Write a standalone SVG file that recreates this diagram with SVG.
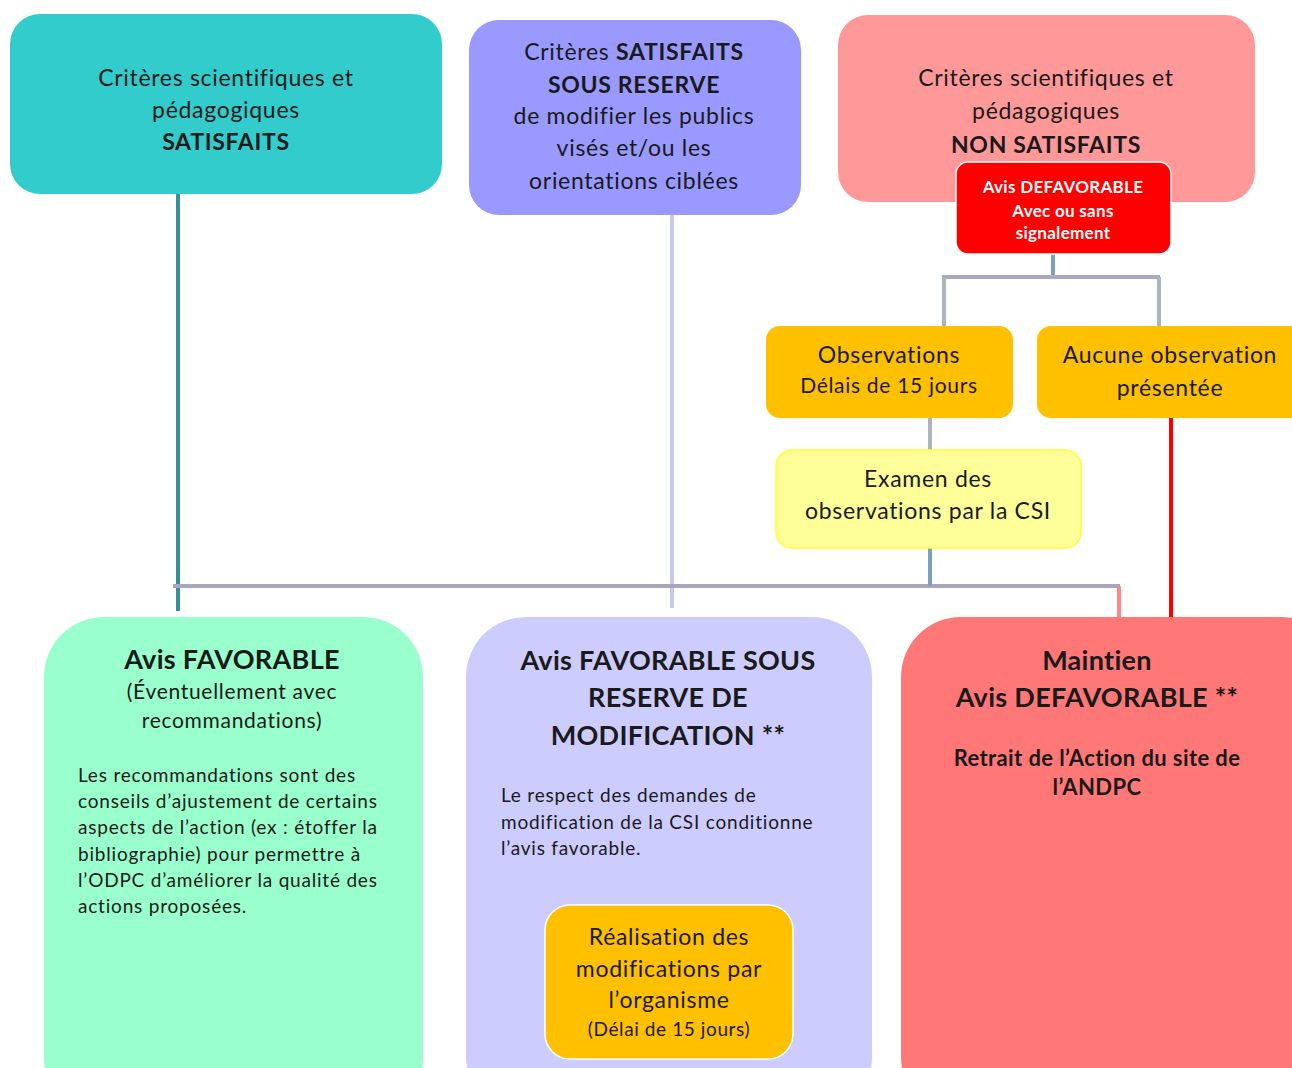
<svg xmlns="http://www.w3.org/2000/svg" width="1292" height="1068" viewBox="0 0 1292 1068">
<style>
text{font-family:Lato,"Open Sans","Liberation Sans",sans-serif;fill:#1a1a1a;}
.c{text-anchor:middle;}
.t22{font-size:23px;letter-spacing:0.7px;}
.t20{font-size:21px;letter-spacing:0.7px;}
.t18{font-size:19px;letter-spacing:0.6px;}
.t17{font-size:19px;letter-spacing:0.8px;}
.h{font-size:27px;font-weight:bold;letter-spacing:0.3px;}
.r{font-size:22px;font-weight:bold;letter-spacing:0.4px;}
.b{font-weight:bold;}
.w{fill:#ffffff;font-size:17px;font-weight:bold;letter-spacing:0.3px;}
.ln{fill:none;stroke-width:4;}
</style>
<rect width="1292" height="1068" fill="#ffffff"/>
<g id="connectors">
<line class="ln" x1="178" y1="194" x2="178" y2="611" stroke="#3b8e99"/>
<line class="ln" x1="672" y1="215" x2="672" y2="608" stroke="#c8c8f2"/>
<line class="ln" x1="173" y1="586" x2="1120" y2="586" stroke="#aaa6be"/>
<line class="ln" x1="1119" y1="586" x2="1119" y2="617" stroke="#ff8888"/>
<line class="ln" x1="1053" y1="254" x2="1053" y2="277" stroke="#7f9fbf"/>
<line class="ln" x1="942" y1="277" x2="1160" y2="277" stroke="#aaa8c0"/>
<line class="ln" x1="944" y1="277" x2="944" y2="326" stroke="#a9b6bc"/>
<line class="ln" x1="1159" y1="277" x2="1159" y2="326" stroke="#a9b6bc"/>
<line class="ln" x1="930" y1="418" x2="930" y2="452" stroke="#a9b6bc"/>
<line class="ln" x1="930" y1="548" x2="930" y2="586" stroke="#7f9fbf"/>
<line class="ln" x1="1171" y1="418" x2="1171" y2="617" stroke="#ff0000"/>
</g>
<g id="n-satisfaits">
<rect x="10" y="14" width="432" height="180" rx="30" fill="#33cccc"/>
<text class="c t22" x="226" y="86">Critères scientifiques et</text>
<text class="c t22" x="226" y="118">pédagogiques</text>
<text class="c t22 b" x="226" y="150">SATISFAITS</text>
</g>
<g id="n-sous-reserve">
<rect x="469" y="20" width="332" height="195" rx="30" fill="#9999ff"/>
<text class="c t22" x="634" y="60">Critères <tspan class="b">SATISFAITS</tspan></text>
<text class="c t22 b" x="634" y="93">SOUS RESERVE</text>
<text class="c t22" x="634" y="124">de modifier les publics</text>
<text class="c t22" x="634" y="156">visés et/ou les</text>
<text class="c t22" x="634" y="189">orientations ciblées</text>
</g>
<g id="n-non-satisfaits">
<rect x="838" y="15" width="417" height="187" rx="30" fill="#ff9999"/>
<text class="c t22" x="1046" y="86">Critères scientifiques et</text>
<text class="c t22" x="1046" y="119">pédagogiques</text>
<text class="c t22 b" x="1046" y="153">NON SATISFAITS</text>
</g>
<g id="n-avis-defavorable">
<rect x="956" y="162" width="215" height="92" rx="12" fill="#ff0000" stroke="#ffffff" stroke-width="1.5"/>
<text class="c w" x="1063" y="193">Avis DEFAVORABLE</text>
<text class="c w" x="1063" y="217">Avec ou sans</text>
<text class="c w" x="1063" y="239">signalement</text>
</g>
<g id="n-observations">
<rect x="766" y="326" width="247" height="92" rx="14" fill="#ffc000"/>
<text class="c t22" x="889" y="363">Observations</text>
<text class="c t20" x="889" y="393">Délais de 15 jours</text>
</g>
<g id="n-aucune">
<rect x="1037" y="326" width="275" height="92" rx="14" fill="#ffc000"/>
<text class="c t22" x="1170" y="363">Aucune observation</text>
<text class="c t22" x="1170" y="396">présentée</text>
</g>
<g id="n-examen">
<rect x="776" y="450" width="305" height="98" rx="16" fill="#ffff99" stroke="#ffff33" stroke-width="1.5"/>
<text class="c t22" x="928" y="487">Examen des</text>
<text class="c t22" x="928" y="519">observations par la CSI</text>
</g>
<g id="n-favorable">
<rect x="44" y="617" width="379" height="500" rx="60" fill="#99ffcc"/>
<text class="c h" x="232" y="669">Avis FAVORABLE</text>
<text class="c t20" x="232" y="699">(Éventuellement avec</text>
<text class="c t20" x="232" y="728">recommandations)</text>
<text class="t17" x="78" y="782">Les recommandations sont des</text>
<text class="t17" x="78" y="808">conseils d’ajustement de certains</text>
<text class="t17" x="78" y="834">aspects de l’action (ex : étoffer la</text>
<text class="t17" x="78" y="861">bibliographie) pour permettre à</text>
<text class="t17" x="78" y="887">l’ODPC d’améliorer la qualité des</text>
<text class="t17" x="78" y="913">actions proposées.</text>
</g>
<g id="n-favorable-reserve">
<rect x="466" y="617" width="406" height="500" rx="60" fill="#ccccff"/>
<text class="c h" x="668" y="670">Avis FAVORABLE SOUS</text>
<text class="c h" x="668" y="707">RESERVE DE</text>
<text class="c h" x="668" y="745">MODIFICATION **</text>
<text class="t17" x="501" y="802">Le respect des demandes de</text>
<text class="t17" x="501" y="829">modification de la CSI conditionne</text>
<text class="t17" x="501" y="855">l’avis favorable.</text>
</g>
<g id="n-realisation">
<rect x="545" y="905" width="248" height="154" rx="25" fill="#ffc000" stroke="#ffffff" stroke-width="1.5"/>
<text class="c t22" x="669" y="945">Réalisation des</text>
<text class="c t22" x="669" y="977">modifications par</text>
<text class="c t22" x="669" y="1008">l’organisme</text>
<text class="c t18" x="669" y="1036">(Délai de 15 jours)</text>
</g>
<g id="n-maintien">
<rect x="901" y="617" width="440" height="500" rx="60" fill="#ff7777"/>
<text class="c h" x="1097" y="670">Maintien</text>
<text class="c h" x="1097" y="707">Avis DEFAVORABLE **</text>
<text class="c r" x="1097" y="766">Retrait de l’Action du site de</text>
<text class="c r" x="1097" y="795">l’ANDPC</text>
</g>
</svg>
